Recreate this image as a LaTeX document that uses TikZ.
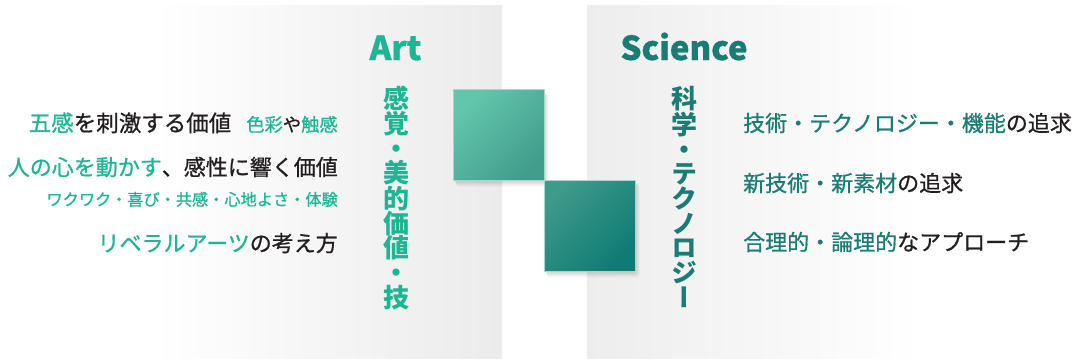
\documentclass[tikz,border=0pt]{standalone}
\usepackage{fontspec}
\setmainfont{Noto Sans CJK JP}[FakeBold=0.8]
\newfontfamily\vjp[RawFeature=+vert]{Noto Sans CJK JP}
\usetikzlibrary{fadings}
\definecolor{artgreen}{HTML}{1DB593}
\definecolor{sciteal}{HTML}{1B7C73}
\definecolor{inkdark}{HTML}{231F20}
\definecolor{panelgray}{HTML}{EBEBEB}
\definecolor{panelgrayB}{HTML}{ECEDEC}
\definecolor{sqAtl}{HTML}{62C6AC}
\definecolor{sqAbr}{HTML}{429D8C}
\definecolor{sqBtl}{HTML}{3E9A8A}
\definecolor{sqBbr}{HTML}{0F7B75}
\definecolor{sqborder}{HTML}{A6D9CD}
\tikzset{
  sqbox/.style={minimum size=91pt, inner sep=0pt, draw=sqborder, line width=0.7pt},
  sqshadow/.style={fill=black, fill opacity=0.035, rounded corners=3pt},
  lefttext/.style={anchor=base east, inner sep=0pt, text=inkdark, font=\fontsize{22}{26}\selectfont},
  righttext/.style={anchor=base west, inner sep=0pt, text=inkdark, font=\fontsize{22}{26}\selectfont},
  title/.style={anchor=base, inner sep=0pt, font=\bfseries\fontsize{33}{40}\selectfont},
  vtext/.style={anchor=north, inner sep=0pt, align=center, font=\vjp\bfseries\fontsize{26}{24.7}\selectfont}
}
\begin{document}
\begin{tikzpicture}[x=1pt,y=-1pt]
\useasboundingbox (0,0) rectangle (1076,359);
\fill[white] (0,0) rectangle (1076,359);
% panels
\shade[left color=white, right color=panelgray] (154,5) rectangle (502,358);
\shade[left color=panelgrayB, right color=white] (587,5) rectangle (920,358);
% square shadows
\foreach \d in {1,2,3,4,5} {
  \fill[sqshadow] (453+\d*0.6,90+\d*0.9) rectangle (544+\d*0.9,180+\d*1.3);
  \fill[sqshadow] (544+\d*0.6,180+\d*0.9) rectangle (635+\d*0.9,271+\d*1.3);
}
% squares
\node[sqbox, top color=sqAtl, bottom color=sqAbr, shading angle=45] (artsq) at (498.5,135) {};
\node[sqbox, top color=sqBtl, bottom color=sqBbr, shading angle=45] (scisq) at (589.5,225.5) {};
% titles
\node[title, text=artgreen] (art) at (395.5,60) {Art};
\node[title, text=sciteal] (sci) at (684,60) {Science};
% vertical texts
\node[vtext, text=artgreen] (artv) at (396,86) {感\\覚\\・\\美\\的\\価\\値\\・\\技};
\node[vtext, text=sciteal] (sciv) at (684.5,86) {科\\学\\・\\テ\\ク\\ノ\\ロ\\ジ\\ー};
% left texts
\node[lefttext] (l1) at (338,131.4) {{\fontsize{22.5}{26}\selectfont\textcolor{artgreen}{五感}を刺激する価値}\hspace{15pt}{\fontsize{18.3}{20}\selectfont\textcolor{artgreen}{色彩}や\textcolor{artgreen}{触感}}};
\node[lefttext] (l2) at (338,175.4) {\textcolor{artgreen}{人の心を動かす}、感性に響く価値};
\node[lefttext, text=artgreen, font=\fontsize{16.2}{20}\selectfont] (l3) at (338,205.5) {ワクワク・喜び・共感・心地よさ・体験};
\node[lefttext] (l4) at (338,251.4) {\textcolor{artgreen}{リベラルアーツ}の考え方};
% right texts
\node[righttext] (r1) at (743,131.4) {\textcolor{sciteal}{技術・テクノロジー・機能}の追求};
\node[righttext] (r2) at (743,191.4) {\textcolor{sciteal}{新技術・新素材}の追求};
\node[righttext] (r3) at (743,250.4) {\textcolor{sciteal}{合理的・論理的}なアプローチ};
\end{tikzpicture}
\end{document}
